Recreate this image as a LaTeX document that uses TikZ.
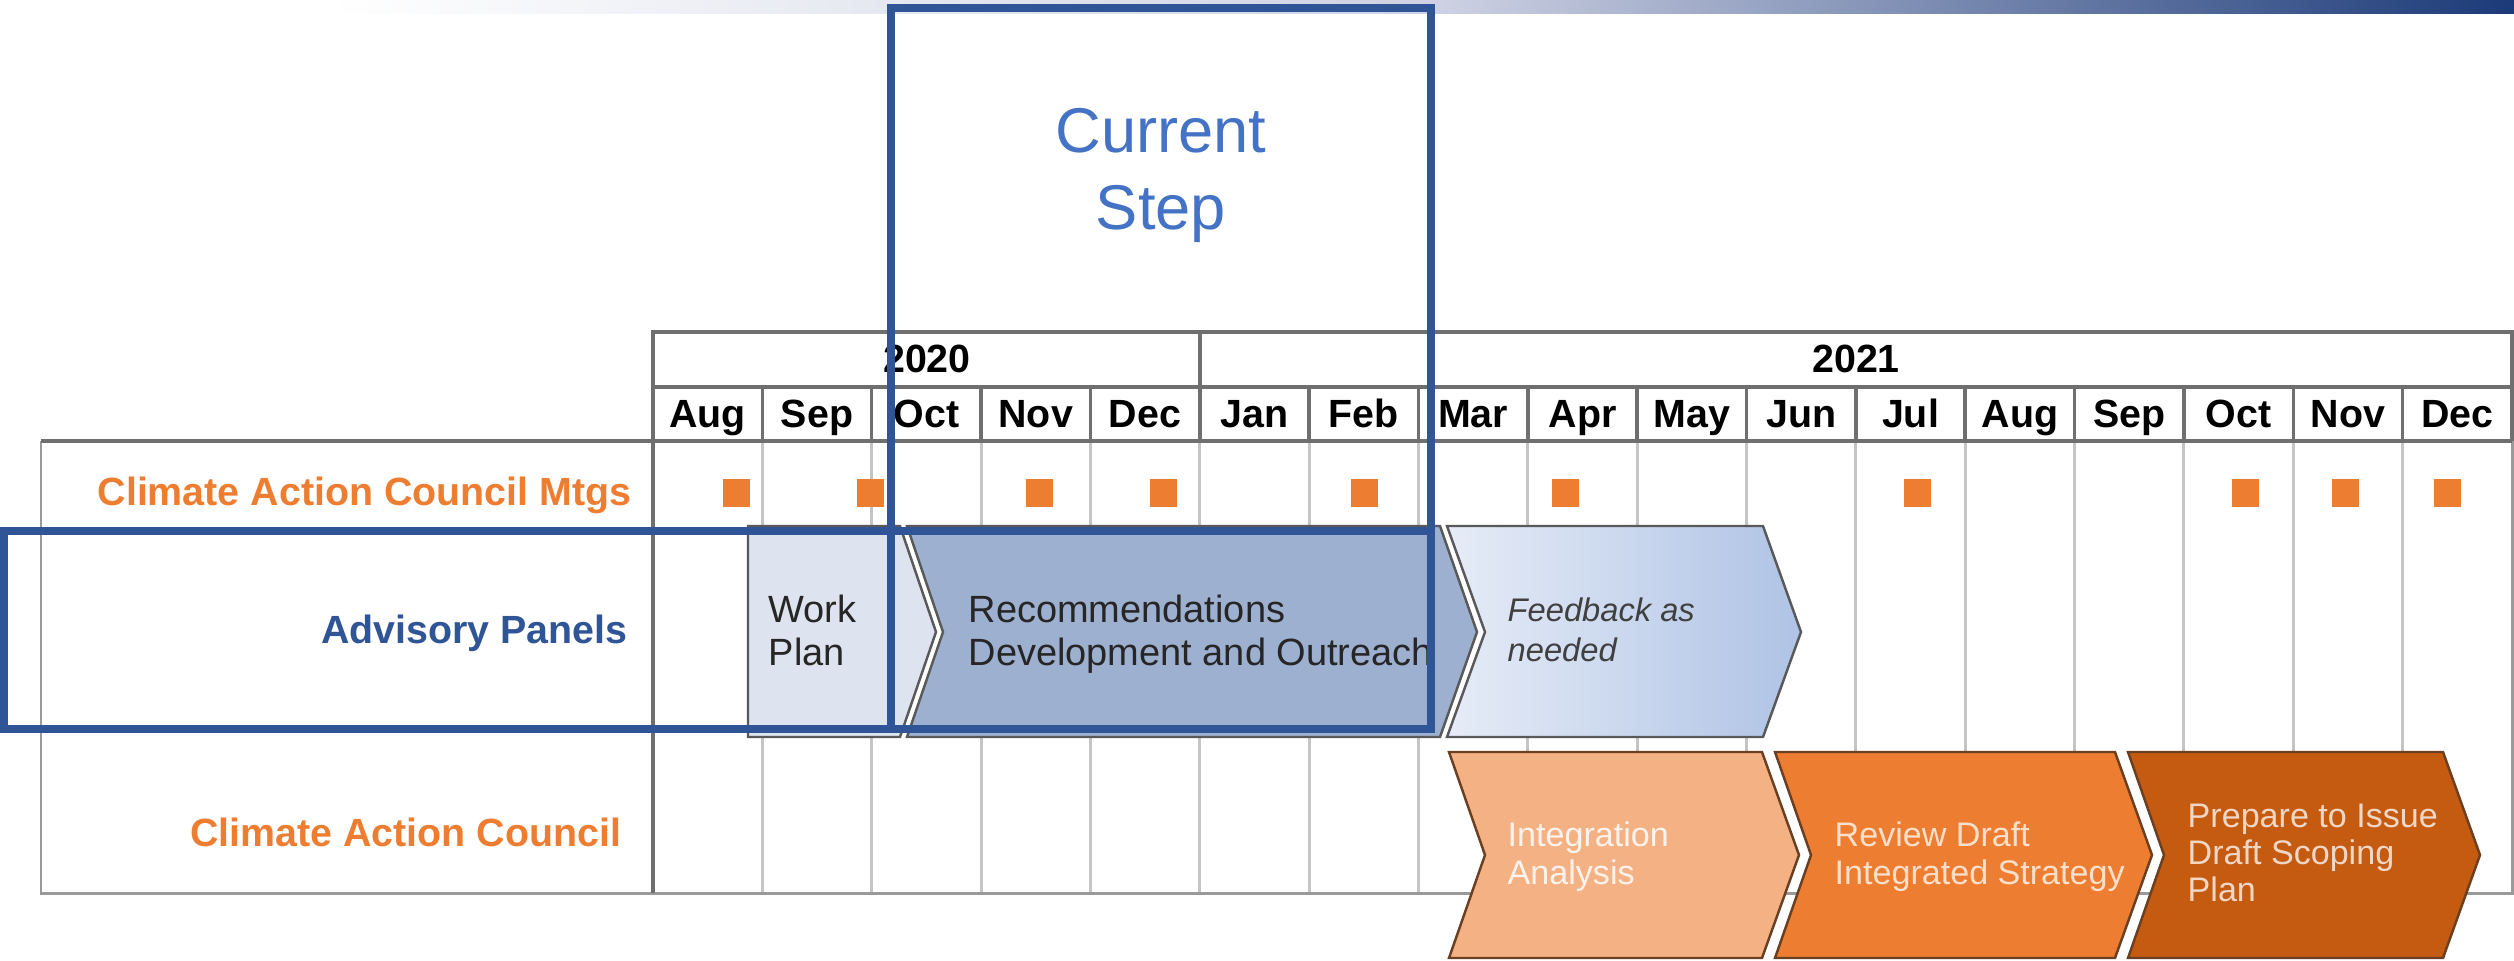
\documentclass[tikz,border=0pt]{standalone}
\usepackage{fontspec}
\setmainfont{Liberation Sans}
\usetikzlibrary{positioning}
\definecolor{navy}{HTML}{2F5597}
\definecolor{stepblue}{HTML}{4472C4}
\definecolor{hdrgray}{HTML}{6F6F6F}
\definecolor{framegray}{HTML}{9A9A9A}
\definecolor{bodygray}{HTML}{C4C4C4}
\definecolor{mtgorange}{HTML}{ED7D31}
\definecolor{wpfill}{HTML}{DDE4EF}
\definecolor{recfill}{HTML}{9DB0CF}
\definecolor{fbleft}{HTML}{E6ECF7}
\definecolor{fbright}{HTML}{AFC3E5}
\definecolor{ialight}{HTML}{F4B183}
\definecolor{rdmid}{HTML}{ED7D31}
\definecolor{pideep}{HTML}{C55A11}
\definecolor{chevgray}{HTML}{595959}
\definecolor{chevbrown}{HTML}{6B3F22}
\definecolor{barmid}{HTML}{CDD1E3}
\definecolor{bardark}{HTML}{1B3A78}
\tikzstyle{hdr}=[draw=hdrgray, line width=1pt]
\tikzstyle{bodyline}=[draw=bodygray, line width=0.85pt]
\tikzstyle{month}=[font=\bfseries\fontsize{11.2}{13}\selectfont, anchor=base, inner sep=0pt]
\tikzstyle{rowlabel}=[font=\bfseries\fontsize{11.2}{13}\selectfont, anchor=base east, inner sep=0pt]
\tikzstyle{mtg}=[fill=mtgorange, minimum width=2.7mm, minimum height=2.8mm, inner sep=0pt]
\tikzstyle{chev}=[draw=chevgray, line width=0.7pt]
\tikzstyle{phase}=[inner sep=0pt, anchor=west, align=left]
\tikzstyle{hilite}=[draw=navy, line width=2.3pt]

\begin{document}
\begin{tikzpicture}[x=0.1mm, y=-0.1mm]
		\useasboundingbox (0,0) rectangle (2514,960);
		% top bar
		\shade[left color=white, right color=barmid] (330,0) rectangle (1440,13);
		\shade[left color=barmid, right color=bardark] (1440,0) rectangle (2514,13);
		
		% body grid lines
		\foreach \i in {1,...,16}
		\path[bodyline] ({653+\i*109.35},441) -- ({653+\i*109.35},893);
		
		% table frame and header
		\path[bodyline, draw=framegray] (41,441) -- (41,893) -- (2512,893) -- (2512,441);
		\path[hdr] (653,332) rectangle (2512,387);
		\path[hdr] (1200,332) -- (1200,441);
		\path[hdr] (41,441) -- (2512,441);
		\path[hdr] (653,387) -- (653,893);
		\path[hdr] (2512,387) -- (2512,441);
		\foreach \i in {1,...,16}
		\path[hdr] ({653+\i*109.35},387) -- ({653+\i*109.35},441);
		
		\node[month] (y2020) at (927,372) {2020};
		\node[month] (y2021) at (1856,372) {2021};
		\foreach \m [count=\i] in {Aug,Sep,Oct,Nov,Dec,Jan,Feb,Mar,Apr,May,Jun,Jul,Aug,Sep,Oct,Nov,Dec}
		\node[month] (mon\i) at ({653+(\i-0.5)*109.35},427) {\m};
		
		% row labels
		\node[rowlabel, text=mtgorange] (mtgs) at (632,505) {Climate Action Council Mtgs};
		\node[rowlabel, text=navy] (panels) at (628,643) {Advisory Panels};
		\node[rowlabel, text=mtgorange] (council) at (622,846) {Climate Action Council};
		
		% council meetings
		\foreach \x in {736,870,1039,1163,1364,1565,1917,2245,2345,2447}
		\node[mtg] (mtg\x) at (\x,493) {};
		
		% advisory panel phases
		\draw[chev, fill=wpfill] (748,526) -- (900,526) -- (936,632) -- (900,737) -- (748,737) -- cycle;
		\draw[chev, fill=recfill] (907,526) -- (1440,526) -- (1477,632) -- (1440,737) -- (907,737) -- (943,632) -- cycle;
		\draw[chev, left color=fbleft, right color=fbright] (1447,526) -- (1763,526) -- (1801,632) -- (1763,737) -- (1447,737) -- (1485,632) -- cycle;
		
		% council phases
		\foreach \l/\r/\col in {1449/1762/ialight, 1775/2115/rdmid, 2128/2443/pideep}
		\draw[chev, draw=chevbrown, fill=\col] (\l,752) -- (\r,752) -- ({\r+37},855) -- (\r,958) -- (\l,958) -- ({\l+36},855) -- cycle;
		
		\node[phase, font=\fontsize{10.8}{12.2}\selectfont, text=black!85] (wp) at (768,630) {Work\\Plan};
		\node[phase, font=\fontsize{10.8}{12.2}\selectfont, text=black!85] (rec) at (968,634) {Recommendations\\Development and Outreach};
		\node[phase, font=\itshape\fontsize{9.3}{11.4}\selectfont, text=black!75] (fb) at (1507,630) {Feedback as\\needed};
		\node[phase, font=\fontsize{9.7}{10.8}\selectfont, text=white!85!ialight] (ia) at (1507,857) {Integration\\Analysis};
		\node[phase, font=\fontsize{9.7}{10.8}\selectfont, text=white!75!rdmid] (rd) at (1834,857) {Review Draft\\Integrated Strategy};
		\node[phase, font=\fontsize{9.7}{10.6}\selectfont, text=white!75!pideep] (pi) at (2187,853) {Prepare to Issue\\Draft Scoping\\Plan};
		
		% current step highlight
		\path[hilite] (891,8) rectangle (1431,729);
		\path[hilite] (4,531) rectangle (1431,729);
		\node[font=\fontsize{18}{21.9}\selectfont, text=stepblue, align=center] (step) at (1161,175) {Current\\Step};
		\end{tikzpicture}
\end{document}
